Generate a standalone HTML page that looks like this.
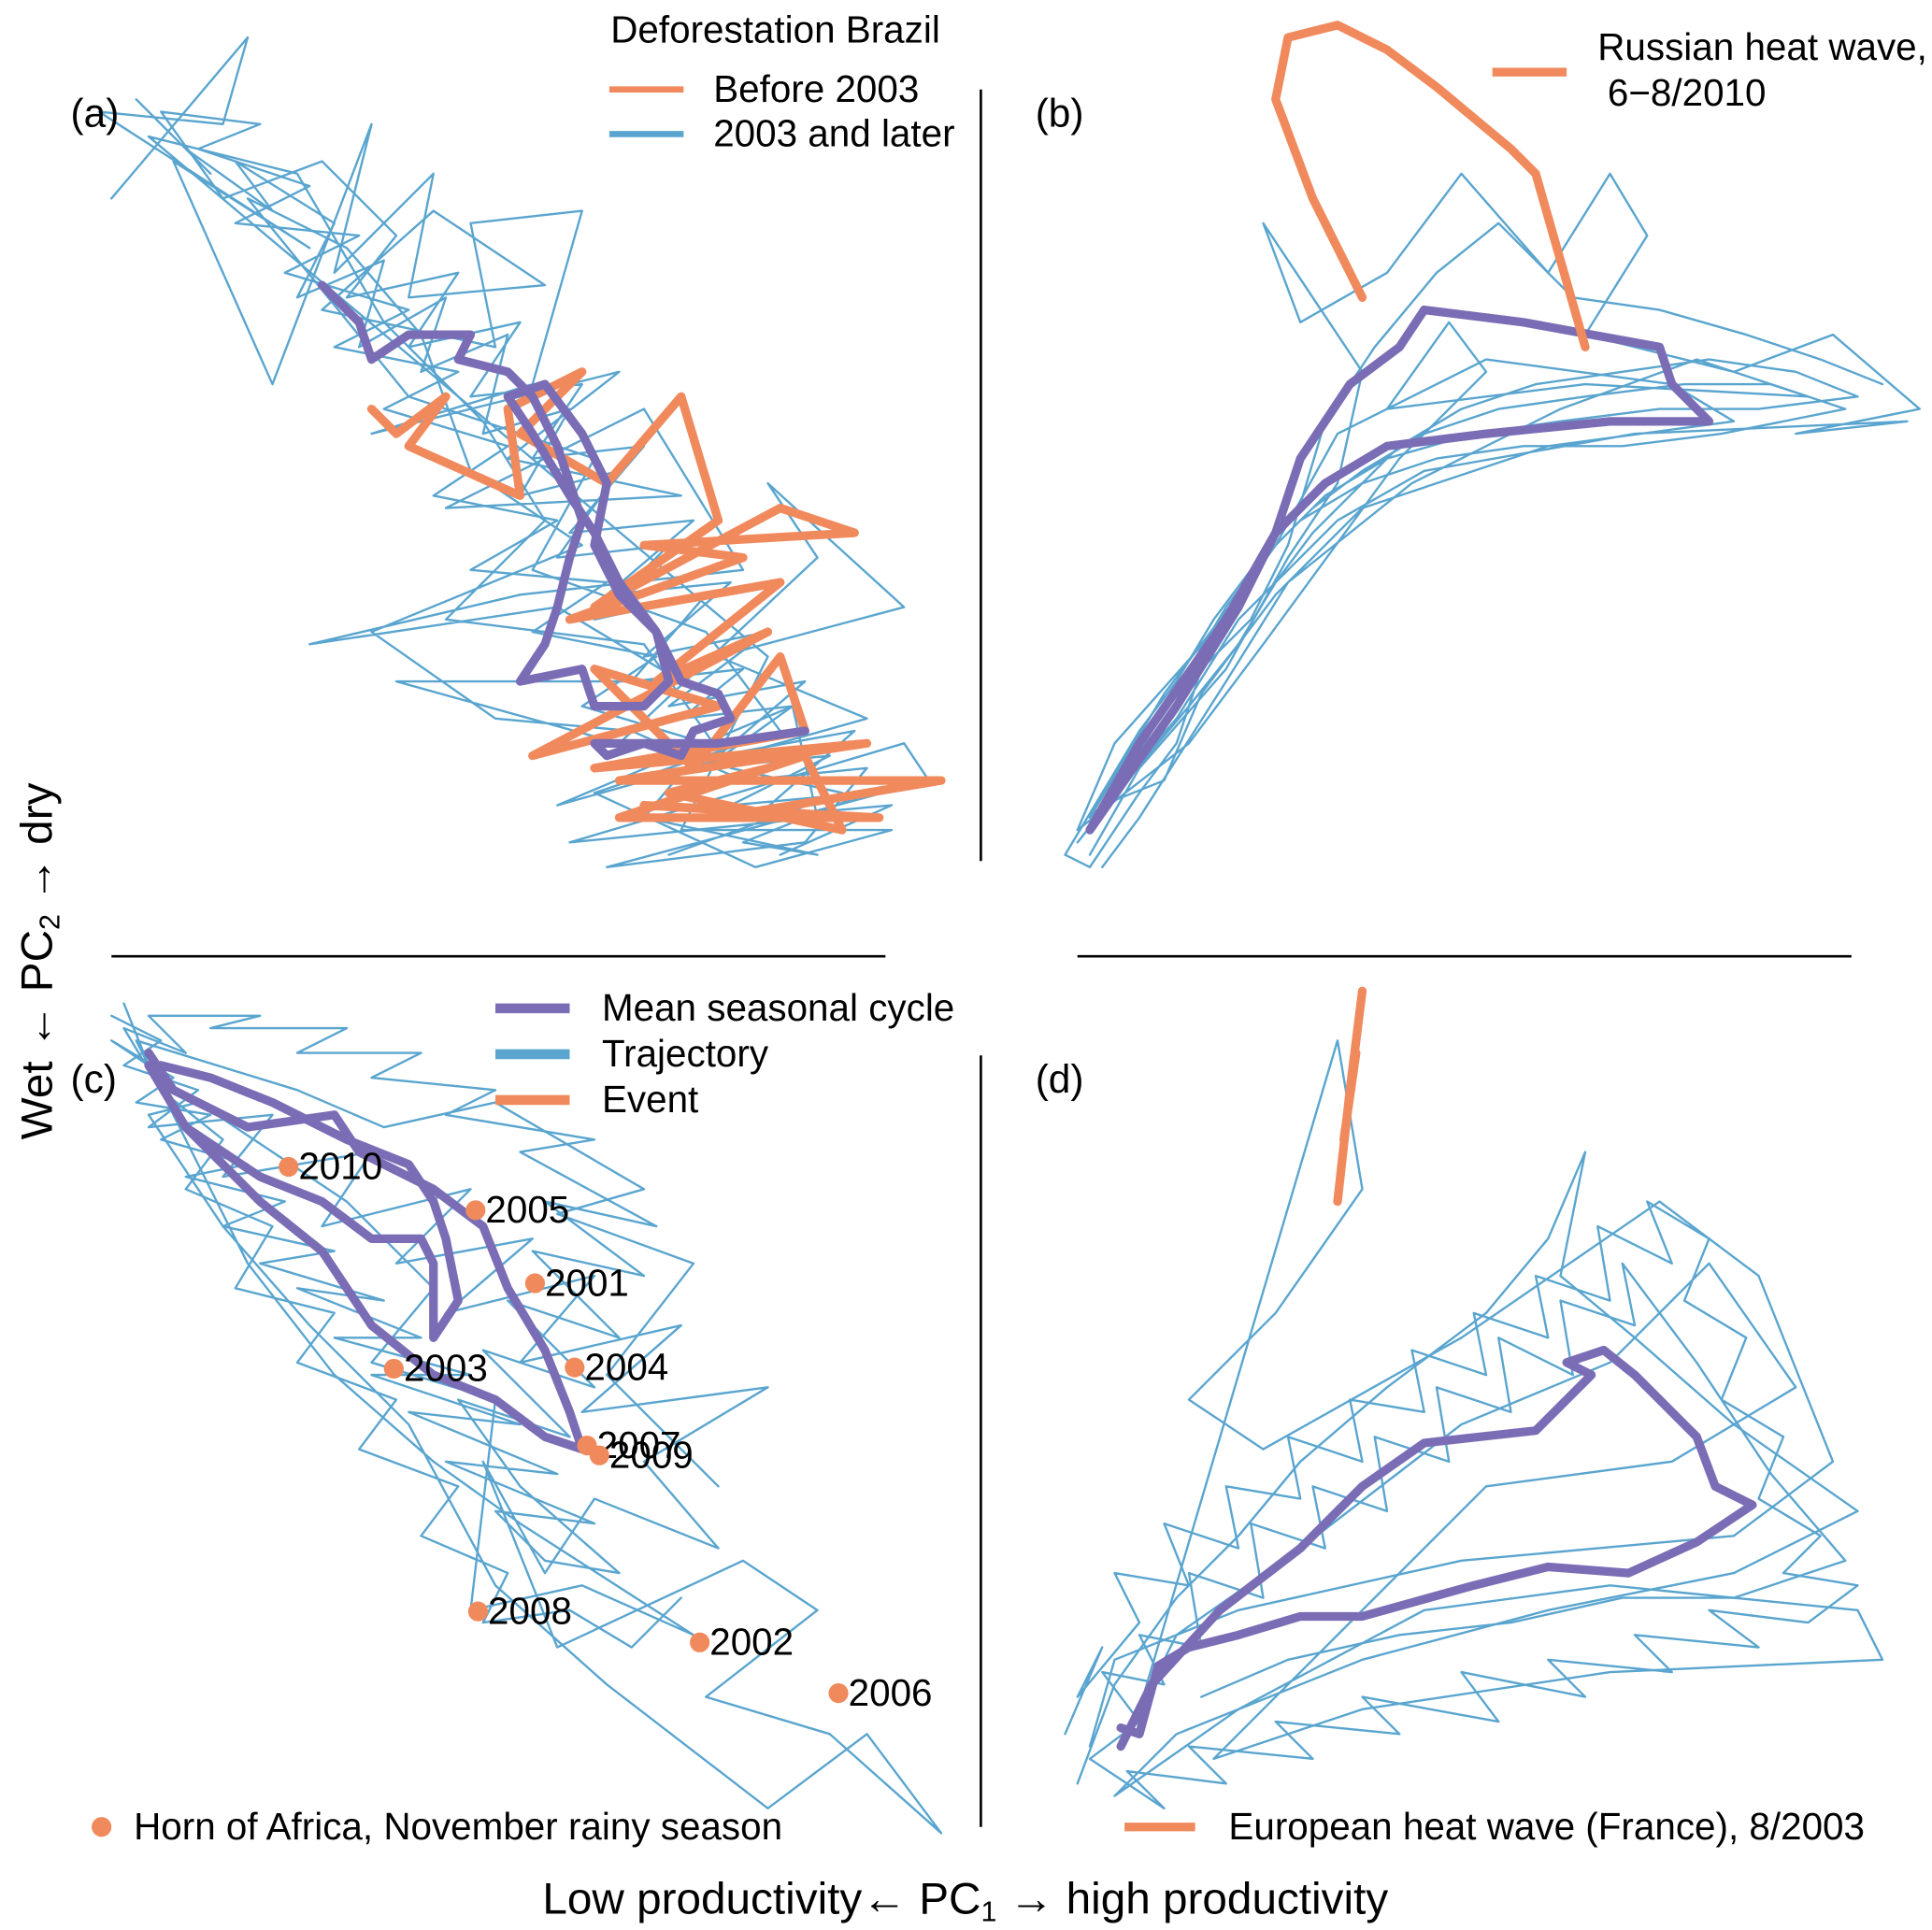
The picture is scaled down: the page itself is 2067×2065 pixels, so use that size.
<!DOCTYPE html>
<html><head><meta charset="utf-8"><style>
html,body{margin:0;padding:0;background:#fff}
svg{display:block;font-family:"Liberation Sans",Arial,sans-serif}
</style></head><body>
<svg id="chart" width="2067" height="2065" viewBox="0 0 1560 1558" xmlns="http://www.w3.org/2000/svg">
<g stroke="#000" stroke-width="2">
<line x1="792" y1="72" x2="792" y2="695"/>
<line x1="90" y1="772" x2="715" y2="772"/>
<line x1="870" y1="772" x2="1495" y2="772"/>
<line x1="792" y1="852" x2="792" y2="1475"/>
</g>
<g id="marks"></g>
<g font-size="32" fill="#000">
<text x="57" y="102">(a)</text>
<text x="836" y="102">(b)</text>
<text x="57" y="882">(c)</text>
<text x="836" y="882">(d)</text>
</g>
<g font-size="30.5" fill="#000">
<text x="493" y="34">Deforestation Brazil</text>
<line x1="492" y1="72" x2="552" y2="72" stroke="#f08a5d" stroke-width="5"/>
<text x="576" y="82">Before 2003</text>
<line x1="492" y1="108" x2="552" y2="108" stroke="#5aa5cf" stroke-width="5"/>
<text x="576" y="118">2003 and later</text>
<line x1="1205" y1="58" x2="1265" y2="58" stroke="#f08a5d" stroke-width="7"/>
<text x="1290" y="48">Russian heat wave,</text>
<text x="1298" y="85">6−8/2010</text>
<line x1="400" y1="814" x2="460" y2="814" stroke="#7b6db5" stroke-width="8"/>
<text x="486" y="824">Mean seasonal cycle</text>
<line x1="400" y1="851" x2="460" y2="851" stroke="#5aa5cf" stroke-width="8"/>
<text x="486" y="861">Trajectory</text>
<line x1="400" y1="888" x2="460" y2="888" stroke="#f08a5d" stroke-width="8"/>
<text x="486" y="898">Event</text>
<circle cx="82" cy="1475" r="8" fill="#f08a5d"/>
<text x="108" y="1485">Horn of Africa, November rainy season</text>
<line x1="908" y1="1475" x2="965" y2="1475" stroke="#f08a5d" stroke-width="7"/>
<text x="992" y="1485">European heat wave (France), 8/2003</text>
</g>
<text x="438" y="1545" font-size="36">Low productivity← PC<tspan font-size="23" dy="6">1</tspan><tspan dy="-6"> → high productivity</tspan></text>
<text transform="translate(42,920) rotate(-90)" font-size="36">Wet ← PC<tspan font-size="23" dy="6">2</tspan><tspan dy="-6"> → dry</tspan></text>
</svg>
<script>
const blueA=[[9,16],[20,3],[18,10],[8,9],[25,20],[14,13],[22,31],[30,10],[27,22],[35,14],[33,24],[44,23],[35,17],[26,25],[40,28],[38,18],[47,17],[43,31],[30,35],[50,30],[41,37],[55,40],[36,41],[52,33],[60,46],[42,48],[25,52],[45,49],[55,55],[32,55],[50,60],[66,45],[62,39],[73,49],[58,53],[70,58],[45,65],[64,57],[66,66],[46,68],[73,60],[75,63],[49,70],[65,68],[70,62],[60,63],[51,59],[40,58],[30,51],[47,44],[38,38],[34,27],[28,20],[20,16],[33,32],[48,37],[43,46],[57,51],[63,59],[48,64],[61,70],[72,67],[55,67],[62,53],[12,11],[24,14],[31,26],[39,34],[44,42],[36,50],[52,52],[59,62],[68,64],[54,69]];
const blueA2=[[11,8],[17,14],[15,12],[22,17],[19,13],[27,18],[24,24],[31,21],[29,28],[36,24],[34,30],[41,27],[39,35],[46,33],[42,40],[50,38],[45,45],[54,44],[48,50],[57,48],[51,55],[60,54],[55,58],[64,57],[57,62],[67,61],[59,65],[70,64],[60,68],[66,69],[52,66],[57,60],[47,57],[53,53],[43,51],[49,47],[38,46],[45,42],[35,40],[41,36],[31,33],[37,30],[27,28],[33,25],[23,22],[29,19],[19,18],[25,15],[16,12],[21,10],[13,9],[18,16],[26,13],[32,19],[28,24],[37,22],[33,28],[42,26],[38,32],[47,31],[43,37],[52,36],[46,43],[56,42],[49,48],[59,47],[52,53],[62,51],[54,57],[65,55],[58,61],[69,59],[61,66],[72,65],[63,69]];
const purpleA=[[26,23],[29,26],[30,29],[33,27],[38,27],[37,29],[41,30],[43,32],[45,36],[47,42],[46,45],[45,49],[44,52],[42,55],[47,54],[48,57],[52,57],[54,55],[53,51],[50,47],[48,43],[46,40],[43,35],[41,32],[44,31],[47,35],[49,39],[48,44],[50,48],[53,51],[55,55],[58,56],[59,58],[56,59],[55,61],[52,60],[49,61],[48,60],[52,60],[58,60],[65,59]];
const orangeA=[[30,33],[32,35],[36,32],[33,36],[42,40],[41,33],[47,30],[42,35],[49,39],[55,32],[58,42],[48,49],[63,41],[69,43],[52,44],[60,45],[46,50],[63,47],[53,55],[62,51],[43,61],[58,57],[48,54],[56,62],[63,53],[65,59],[48,62],[70,60],[50,63],[76,63],[58,66],[69,66],[52,65],[71,66],[50,66],[65,61],[68,67],[54,64],[62,62]];
const blueB=[[88,69],[92,62],[99,54],[104,45],[108,39],[110,30],[102,18],[105,26],[112,22],[118,14],[125,22],[130,14],[133,19],[128,27],[140,30],[148,27],[155,33],[145,35],[154,34],[132,35],[115,38],[108,42],[100,50],[95,58],[89,65],[94,63],[97,56],[103,48],[110,41],[125,36],[140,34],[135,31],[120,29],[108,35],[103,44],[98,51],[90,60],[87,67],[96,60],[102,52],[113,37],[120,30],[117,26],[112,33],[128,31],[146,32],[137,29],[126,33],[114,39],[104,47],[99,55],[92,66],[89,70]];
const blueB2=[[87,68],[91,63],[96,57],[100,52],[103,47],[106,43],[109,40],[113,36],[118,33],[124,31],[131,30],[138,29],[145,30],[150,32],[142,33],[134,33],[126,34],[119,35],[112,37],[107,40],[103,44],[100,48],[97,52],[94,56],[91,61],[88,66],[90,64],[93,59],[96,54],[99,49],[102,45],[106,41],[110,38],[115,35],[121,33],[128,32],[136,31],[143,31],[149,33],[139,35],[131,36],[123,36],[116,37],[110,39],[105,42],[101,46],[98,50],[95,55],[92,59],[89,64],[86,69],[88,70],[92,64],[95,60],[97,54],[101,50],[104,44],[107,34],[111,28],[116,22],[121,18],[127,24],[134,25],[141,27],[147,29],[152,31]];
const purpleB=[[88,67],[95,57],[100,49],[103,43],[105,37],[109,31],[113,28],[115,25],[123,26],[134,28],[135,31],[138,34],[130,34],[120,35],[112,36],[107,39],[103,43],[99,50],[92,60],[88,67]];
const orangeB=[[110,24],[106,16],[103,8],[104,3],[108,2],[112,4],[116,7],[122,12],[124,14],[126,21],[128,28]];
const blueC=[[9,82],[13,84],[10,86],[16,88],[12,91],[22,90],[18,95],[30,93],[26,99],[38,96],[32,102],[43,100],[36,106],[48,103],[42,110],[55,107],[47,114],[62,112],[52,118],[58,125],[48,121],[44,127],[39,118],[45,133],[60,126],[66,130],[57,137],[67,140],[76,148],[70,140],[62,146],[49,136],[40,128],[33,115],[25,107],[18,99],[12,90],[16,89],[28,97],[35,104],[30,110],[40,113],[38,130],[47,128],[56,132],[42,123],[35,118],[27,111],[20,102],[11,84],[24,88],[31,91],[40,89],[52,96],[45,98],[56,102],[49,111],[58,120]];
const blueC2=[[10,81],[12,86],[9,84],[14,87],[11,89],[17,90],[13,92],[20,94],[15,95],[23,97],[18,99],[27,101],[21,102],[31,105],[24,104],[34,108],[27,108],[38,111],[30,111],[42,115],[33,114],[45,119],[36,118],[48,123],[40,122],[44,126],[50,127],[42,120],[37,113],[46,116],[39,109],[48,112],[41,105],[50,108],[43,101],[52,103],[44,97],[53,99],[42,93],[48,92],[36,90],[40,88],[30,87],[34,85],[24,85],[28,83],[17,83],[21,82],[12,82],[15,85],[10,83],[13,88],[18,92],[15,96],[22,99],[19,104],[27,106],[24,110],[32,113],[29,117],[37,120],[34,124],[41,127],[39,131],[46,130],[51,133],[55,129]];
const purpleC=[[12,85],[14,88],[20,91],[27,90],[29,93],[35,96],[39,99],[41,104],[44,109],[46,114],[47,117],[44,116],[40,113],[35,111],[30,107],[26,101],[21,97],[15,91],[12,86],[15,91],[21,95],[26,97],[30,100],[34,100],[35,102],[35,108],[37,105],[36,100],[35,97],[33,94],[28,92],[22,89],[17,87],[13,86]];
const eventYears=["2010","2005","2001","2004","2003","2007","2009","2008","2002","2006"];
const eventX=[23.3,38.4,43.2,46.4,31.8,47.4,48.4,38.6,56.5,67.7];
const eventY=[94.2,97.7,103.6,110.4,110.5,116.7,117.5,130.1,132.6,136.7];
const blueD=[[87,144],[90,136],[95,129],[100,124],[105,118],[112,112],[120,106],[125,100],[128,93],[126,103],[132,108],[140,115],[150,122],[140,127],[125,130],[110,134],[95,140],[90,145],[100,138],[115,130],[130,128],[150,130],[152,134],[130,135],[110,138],[98,142],[105,135],[120,120],[135,118],[145,112],[138,102],[130,110],[118,115],[105,125],[95,132],[92,138],[108,84],[110,96],[103,106],[96,113],[102,117],[118,108],[134,97],[142,103],[148,118],[140,124],[118,126],[100,130],[90,134],[88,141]];
const blueD2=[[86,140],[89,133],[87,137],[92,131],[90,127],[96,128],[94,123],[100,125],[99,120],[105,121],[104,116],[110,118],[109,113],[115,114],[114,109],[120,111],[119,106],[125,108],[124,103],[130,105],[129,99],[135,102],[133,97],[138,100],[136,105],[141,108],[139,113],[144,116],[142,121],[147,124],[144,127],[150,128],[146,131],[138,130],[142,133],[132,132],[135,135],[125,134],[128,137],[118,135],[121,139],[110,137],[113,140],[103,139],[106,142],[96,141],[99,144],[91,143],[94,146],[88,142],[92,139],[89,135],[94,136],[92,132],[97,133],[96,127],[102,129],[101,123],[107,125],[106,120],[112,122],[111,116],[117,118],[116,112],[122,114],[121,108],[127,111],[126,105],[132,107],[131,102],[137,110],[143,119],[149,126],[140,129],[131,129],[122,131],[113,132],[104,134],[97,137]];
const purpleD=[[90.5,141],[93,136],[98.5,130],[105,125],[110,120],[115,116.5],[124,115.5],[128.5,111],[126.5,110],[129.5,109],[132,111],[137,116],[138.5,120],[141.5,121.5],[137,124.5],[131.5,127],[125,126.5],[119,128],[110,130.5],[105,130.5],[100,132],[96,133],[93.5,134.5],[92,140],[90.5,139.5]];
const orangeD1=[[108,97],[109,88],[110,80]];
const orangeD2=[[108.5,92],[109.5,85]];
const xs=v=>v*10, ys=v=>v*10;
const ns="http://www.w3.org/2000/svg", g=document.getElementById('marks');
function line(pts,color,w,name){
 const p=document.createElementNS(ns,'polyline');
 p.setAttribute('points',pts.map(d=>xs(d[0])+','+ys(d[1])).join(' '));
 p.setAttribute('fill','none');p.setAttribute('stroke',color);p.setAttribute('stroke-width',w);
 p.setAttribute('stroke-linejoin','round');p.setAttribute('stroke-linecap','round');
 
 
 g.appendChild(p);
}
const B="#5aa5cf",P="#7b6db5",O="#f08a5d";
line(blueA,B,1.8,'trajectory-a');line(blueA2,B,1.8,'trajectory-a-2');line(orangeA,O,7,'event-before-2003');line(purpleA,P,7,'mean-cycle-a');
line(blueB,B,1.8,'trajectory-b');line(blueB2,B,1.8,'trajectory-b-2');line(purpleB,P,7,'mean-cycle-b');line(orangeB,O,7,'event-russian');
line(blueC,B,1.8,'trajectory-c');line(blueC2,B,1.8,'trajectory-c-2');line(purpleC,P,7,'mean-cycle-c');
line(blueD,B,1.8,'trajectory-d');line(blueD2,B,1.8,'trajectory-d-2');line(purpleD,P,7,'mean-cycle-d');line(orangeD1,O,7,'event-european');line(orangeD2,O,7,'event-european-2');
eventYears.forEach((yr,i)=>{
 const c=document.createElementNS(ns,'circle');
 c.setAttribute('cx',xs(eventX[i]));c.setAttribute('cy',ys(eventY[i]));c.setAttribute('r',8);c.setAttribute('fill',O);
 
 
 g.appendChild(c);
 const t=document.createElementNS(ns,'text');
 t.setAttribute('x',xs(eventX[i])+8);t.setAttribute('y',ys(eventY[i])+10);t.setAttribute('font-size','30.5');
 t.textContent=yr;
 
 
 g.appendChild(t);
});
</script>
</body></html>
